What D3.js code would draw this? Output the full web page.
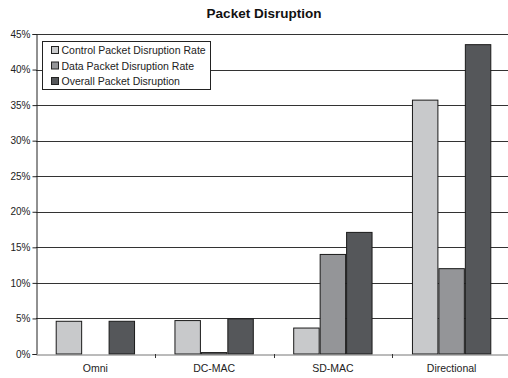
<!DOCTYPE html>
<html>
<head>
<meta charset="utf-8">
<script src="https://cdn.jsdelivr.net/npm/d3@7"></script>
<style>
  html, body { margin: 0; padding: 0; background: #fff; }
  svg { display: block; font-family: "Liberation Sans", Arial, sans-serif; }
</style>
</head>
<body>
<svg id="chart" width="508" height="378"></svg>
<script>
// Packet disruption rates (%) per MAC scheme
const categories = ["Omni", "DC-MAC", "SD-MAC", "Directional"];
const seriesNames = ["Control Packet Disruption Rate", "Data Packet Disruption Rate", "Overall Packet Disruption"];
const controlRate = [4.6, 4.7, 3.65, 35.7];
const dataRate = [0, 0.2, 14.0, 12.0];
const overallRate = [4.6, 4.95, 17.1, 43.5];
const yTicks = [0, 5, 10, 15, 20, 25, 30, 35, 40, 45];
const colors = ["#c8c9cb", "#949598", "#55575a"];

const series = [controlRate, dataRate, overallRate];

const svg = d3.select("#chart");
const margin = { left: 36, right: -3, top: 34, bottom: 24 };
const W = 508, H = 378;
const x0 = margin.left, x1 = W - margin.right;
const yTop = margin.top, yBot = H - margin.bottom;

const x = d3.scaleBand().domain(categories).range([x0, x1]).paddingInner(0).paddingOuter(0);
const inner = d3.scaleBand().domain(d3.range(series.length))
  .range([0, x.bandwidth()]).paddingInner(0).paddingOuter(0.745);
const y = d3.scaleLinear().domain([0, 45]).range([yBot, yTop]);

// title
svg.append("text")
  .attr("x", 264).attr("y", 18)
  .attr("text-anchor", "middle")
  .attr("font-weight", "bold")
  .attr("font-size", 13.5)
  .attr("fill", "#111")
  .text("Packet Disruption");

// horizontal gridlines
svg.append("g").selectAll("line")
  .data(yTicks.filter(d => d > 0))
  .join("line")
  .attr("x1", x0).attr("x2", x1)
  .attr("y1", d => Math.round(y(d)) + 0.5).attr("y2", d => Math.round(y(d)) + 0.5)
  .attr("stroke", "#333").attr("stroke-width", 1);

// y axis
const yAxis = d3.axisLeft(y).tickValues(yTicks).tickFormat(d => d + "%").tickSize(4).tickPadding(2);
const gy = svg.append("g").attr("transform", `translate(${x0 + 0.5},0)`).call(yAxis);
gy.select(".domain").attr("stroke", "#222");
gy.selectAll(".tick line").attr("stroke", "#222");
gy.selectAll(".tick text").attr("font-size", 10).attr("fill", "#222")
  .attr("font-family", "Liberation Sans, Arial, sans-serif");

// bars
const groups = svg.append("g").selectAll("g")
  .data(categories)
  .join("g")
  .attr("transform", d => `translate(${x(d)},0)`);

groups.selectAll("rect")
  .data((d, i) => series.map((s, k) => ({ k, v: s[i] })))
  .join("rect")
  .attr("x", d => inner(d.k) + 0.5)
  .attr("width", inner.bandwidth() - 1)
  .attr("y", d => y(d.v))
  .attr("height", d => y(0) - y(d.v))
  .attr("fill", d => colors[d.k])
  .attr("stroke", d => d.v > 0 ? "#1a1a1a" : "none")
  .attr("stroke-width", 1);

// x axis
const xAxis = d3.axisBottom(x).tickSize(0).tickPadding(10);
const gx = svg.append("g").attr("transform", `translate(0,${yBot + 0.5})`).call(xAxis);
gx.select(".domain").attr("stroke", "#777");
gx.selectAll(".tick text").attr("font-size", 10.5).attr("fill", "#222")
  .attr("font-family", "Liberation Sans, Arial, sans-serif");

// category separator ticks
svg.append("g").selectAll("line")
  .data(categories.slice(1))
  .join("line")
  .attr("x1", d => Math.round(x(d)) + 0.5).attr("x2", d => Math.round(x(d)) + 0.5)
  .attr("y1", yBot).attr("y2", yBot + 4)
  .attr("stroke", "#333");

// legend
const lg = svg.append("g").attr("transform", "translate(42.5,41.5)");
lg.append("rect").attr("width", 168).attr("height", 48)
  .attr("fill", "#fff").attr("stroke", "#222");
const items = lg.selectAll("g").data(seriesNames).join("g")
  .attr("transform", (d, i) => `translate(9,${5 + i * 15.5})`);
items.append("rect").attr("width", 7).attr("height", 7)
  .attr("fill", (d, i) => colors[i]).attr("stroke", "#222");
items.append("text").attr("x", 10).attr("y", 7.5)
  .attr("font-size", 10.5).attr("fill", "#222").text(d => d);
</script>
</body>
</html>
